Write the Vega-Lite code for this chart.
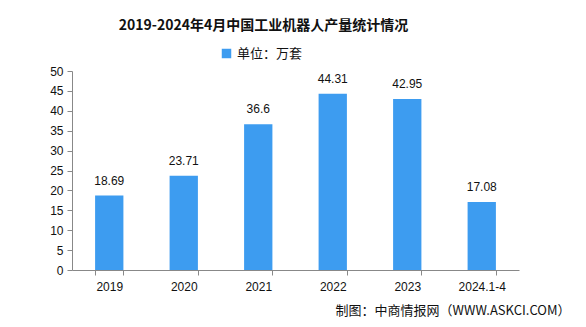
{
  "$schema": "https://vega.github.io/schema/vega-lite/v6.json",
  "width": 447,
  "height": 199,
  "autosize": {"type": "none"},
  "padding": {"left": 72, "top": 71, "right": 67, "bottom": 57},
  "background": "white",
  "title": {
    "text": "2019-2024年4月中国工业机器人产量统计情况",
    "anchor": "middle",
    "dx": -32,
    "dy": 20,
    "offset": 34,
    "fontSize": 14,
    "font": "Noto Sans CJK SC",
    "fontWeight": "bold",
    "color": "#111111"
  },
  "data": {
    "values": [
      {"year": "2019", "value": 18.69, "label": "18.69", "unit": "单位：万套"},
      {"year": "2020", "value": 23.71, "label": "23.71", "unit": "单位：万套"},
      {"year": "2021", "value": 36.6, "label": "36.6", "unit": "单位：万套"},
      {"year": "2022", "value": 44.31, "label": "44.31", "unit": "单位：万套"},
      {"year": "2023", "value": 42.95, "label": "42.95", "unit": "单位：万套"},
      {"year": "2024.1-4", "value": 17.08, "label": "17.08", "unit": "单位：万套"}
    ]
  },
  "encoding": {
    "x": {
      "field": "year",
      "type": "nominal",
      "sort": null,
      "scale": {"paddingInner": 0.62, "paddingOuter": 0.31},
      "axis": {
        "labelAngle": 0,
        "tickBand": "extent",
        "tickSize": 5,
        "labelPadding": 6,
        "title": "制图：中商情报网（WWW.ASKCI.COM）",
        "titleAnchor": "end",
        "titleAlign": "right",
        "titleX": 498,
        "titlePadding": 12,
        "titleFont": "Noto Sans CJK SC",
        "titleFontSize": 13,
        "titleFontWeight": "normal",
        "titleColor": "#111111"
      }
    },
    "y": {
      "field": "value",
      "type": "quantitative",
      "scale": {"domain": [0, 50], "nice": false},
      "axis": {
        "values": [0, 5, 10, 15, 20, 25, 30, 35, 40, 45, 50],
        "grid": false,
        "title": null,
        "tickSize": 5,
        "labelPadding": 4
      }
    }
  },
  "layer": [
    {
      "mark": {"type": "bar"},
      "encoding": {
        "color": {
          "field": "unit",
          "type": "nominal",
          "scale": {"range": ["#3d9cf0"]},
          "legend": {
            "title": null,
            "orient": "none",
            "legendX": 148,
            "legendY": -24,
            "symbolType": "square",
            "symbolSize": 90,
            "symbolStrokeWidth": 0,
            "labelFontSize": 13,
            "labelFont": "Noto Sans CJK SC",
            "labelColor": "#111111"
          }
        }
      }
    },
    {
      "mark": {"type": "text", "baseline": "bottom", "dy": -8, "fontSize": 12, "font": "Liberation Sans", "color": "#111111"},
      "encoding": {"text": {"field": "label"}}
    }
  ],
  "config": {
    "view": {"stroke": null},
    "axis": {
      "domainColor": "#888888",
      "tickColor": "#888888",
      "labelColor": "#111111",
      "labelFontSize": 12,
      "labelFont": "Liberation Sans"
    }
  }
}
